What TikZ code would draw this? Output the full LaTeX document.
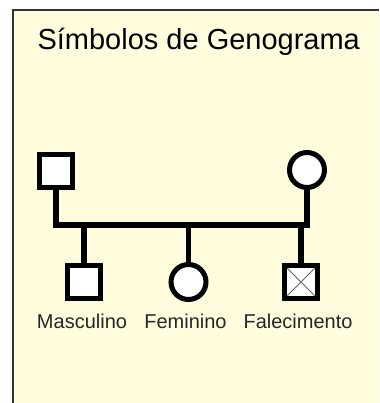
\documentclass[tikz,border=0pt]{standalone}
\usepackage{fontspec}
\setmainfont{Liberation Sans}
\usetikzlibrary{positioning}

\definecolor{notepaper}{HTML}{FFFDDD}
\definecolor{frameline}{HTML}{333333}

\tikzset{
    malebox/.style={draw, line width=5pt, fill=white, minimum size=33pt, inner sep=0pt},
    femalecirc/.style={circle, draw, line width=5pt, fill=white, minimum size=35pt, inner sep=0pt},
    kinline/.style={line width=5.5pt},
    lbl/.style={font=\fontsize{20}{24}\selectfont, text=black!85, inner sep=0pt, anchor=base},
}

\begin{document}
\begin{tikzpicture}[x=1pt, y=-1pt]
        \useasboundingbox (0,0) rectangle (379,403);

        % fundo da nota
        \fill[notepaper] (12,9) rectangle (379,403);
        \draw[frameline, line width=2pt] (13,403) -- (13,10) -- (379,10);

        \node[anchor=base west, font=\fontsize{29}{34}\selectfont] (title) at (34,50) {Símbolos de Genograma};

        % pais
        \node[malebox] (father) at (56,171) {};
        \node[femalecirc] (mother) at (307,170) {};
        \coordinate (bar) at (0,225);

        \draw[kinline] (father.south) -- (father.south |- bar) -- (mother.south |- bar) -- (mother.south);

        % filhos
        \node[malebox] (son) at (84,282) {};
        \node[femalecirc] (daughter) at (188.5,282) {};
        \node[malebox, path picture={
            \draw[line width=1pt, black!60]
                (path picture bounding box.north west) -- (path picture bounding box.south east)
                (path picture bounding box.south west) -- (path picture bounding box.north east);
        }] (deceased) at (301,282) {};

        \draw[kinline] (son.north |- bar) -- (son.north);
        \draw[kinline] (daughter.north |- bar) -- (daughter.north);
        \draw[kinline] (deceased.north |- bar) -- (deceased.north);

        \node[lbl] (sonText) at (82,328) {Masculino};
        \node[lbl] (daughterText) at (185.5,328) {Feminino};
        \node[lbl] (deceasedText) at (298,328) {Falecimento};

    \end{tikzpicture}
\end{document}
